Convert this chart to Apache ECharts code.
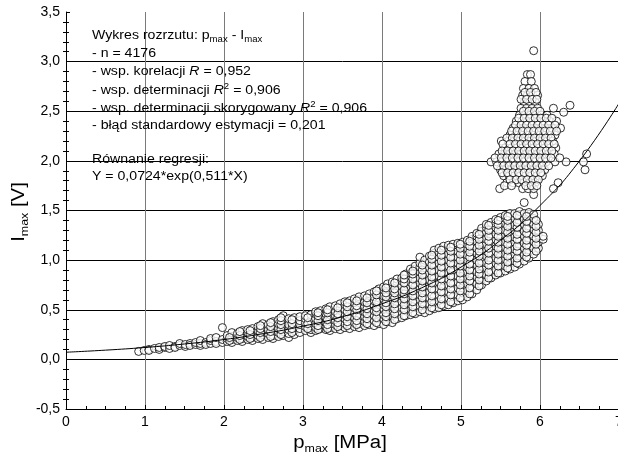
<!DOCTYPE html>
<html><head><meta charset="utf-8">
<script src="https://cdn.jsdelivr.net/npm/echarts@6/dist/echarts.min.js"></script>
<style>html,body{margin:0;padding:0;background:#fff}#c{width:618px;height:463px}</style>
</head><body><div id="c"></div><script>
// ---- data ----
const xTickLabels = ['0','1','2','3','4','5','6','7'];
const yTickLabels = ['-0,5','0,0','0,5','1,0','1,5','2,0','2,5','3,0','3,5'];

// regression curve
const curveX = [0, 0.5, 1, 1.5, 2, 2.5, 3, 3.5, 4, 4.5, 5, 5.5, 6, 6.5, 7];
const curveY = [0.072, 0.093, 0.12, 0.155, 0.20, 0.26, 0.335, 0.43, 0.56, 0.72, 0.93, 1.20, 1.55, 2.00, 2.58];

// scatter columns: [p_max, [I_max values]]
const lowBand = [
  [0.92,[0.08]],[0.99,[0.09]],[1.05,[0.10,0.09]],[1.12,[0.11]],[1.18,[0.10,0.12]],
  [1.25,[0.12,0.13]],[1.31,[0.11,0.14]],[1.38,[0.13,0.12]],[1.44,[0.14,0.16]],
  [1.51,[0.13,0.15]],[1.57,[0.16,0.14]],[1.64,[0.15,0.17]],[1.70,[0.14,0.16,0.19]],
  [1.77,[0.17,0.15]],[1.83,[0.16,0.19,0.21]],[1.90,[0.18,0.16,0.22]],
  [1.98,[0.17,0.20,0.32]],[2.04,[0.18,0.21,0.24]],[2.10,[0.17,0.20,0.23,0.27]],
  [2.17,[0.19,0.22,0.26]],[2.23,[0.18,0.21,0.25,0.29]],[2.30,[0.20,0.23,0.27,0.30]],
  [2.36,[0.19,0.22,0.26,0.31]],[2.43,[0.21,0.24,0.29,0.33]],[2.49,[0.20,0.25,0.28,0.32,0.36]],
  [2.56,[0.22,0.26,0.30,0.35]],[2.62,[0.21,0.24,0.29,0.34,0.38]],[2.69,[0.23,0.27,0.31,0.36,0.40]],
  [2.75,[0.24,0.28,0.33,0.38,0.44]],[2.82,[0.22,0.26,0.30,0.35,0.41]],[2.89,[0.25,0.29,0.33,0.38,0.42]]
];
const lowFill = [
  [2.07,[0.19,0.22]],[2.20,[0.20,0.24,0.28]],[2.33,[0.21,0.25,0.29]],
  [2.46,[0.22,0.27,0.31,0.34]],[2.59,[0.23,0.28,0.33,0.37]],
  [2.72,[0.25,0.30,0.35,0.39,0.42]],[2.86,[0.27,0.31,0.36,0.40]]
];
const midBand = [
  [2.96,[0.27,0.31,0.35,0.39,0.43]],[3.03,[0.29,0.33,0.37,0.41,0.44]],
  [3.10,[0.27,0.30,0.34,0.39,0.45]],[3.16,[0.29,0.32,0.36,0.41,0.46,0.48]],
  [3.22,[0.31,0.35,0.38,0.43,0.49]],[3.29,[0.30,0.33,0.37,0.42,0.46,0.51]],
  [3.34,[0.29,0.32,0.36,0.40,0.45,0.50,0.53]],[3.41,[0.31,0.35,0.39,0.44,0.48,0.54]],
  [3.47,[0.30,0.34,0.38,0.42,0.47,0.51,0.56]],[3.53,[0.32,0.36,0.41,0.45,0.50,0.55,0.58]],
  [3.59,[0.31,0.35,0.40,0.44,0.49,0.53,0.59]],[3.65,[0.33,0.37,0.42,0.47,0.52,0.57,0.61]],
  [3.71,[0.32,0.36,0.41,0.46,0.51,0.55,0.60,0.63]],[3.78,[0.34,0.38,0.43,0.48,0.53,0.58,0.64]],
  [3.84,[0.35,0.40,0.45,0.50,0.55,0.60,0.66]],[3.90,[0.34,0.39,0.44,0.49,0.54,0.59,0.63,0.68]],
  [3.96,[0.36,0.41,0.46,0.51,0.57,0.62,0.67,0.71]]
];
const upperBand = [
  [4.02,[0.35,0.41,0.45,0.51,0.55,0.61,0.64,0.70,0.73]],
  [4.07,[0.38,0.42,0.48,0.52,0.58,0.62,0.68,0.71,0.76]],
  [4.13,[0.37,0.44,0.49,0.53,0.60,0.65,0.69,0.75,0.78]],
  [4.19,[0.41,0.45,0.51,0.57,0.61,0.67,0.72,0.76,0.81]],
  [4.25,[0.42,0.48,0.52,0.58,0.64,0.68,0.74,0.79,0.82]],
  [4.30,[0.44,0.49,0.55,0.60,0.66,0.71,0.76,0.81,0.86]],
  [4.36,[0.45,0.51,0.56,0.62,0.67,0.73,0.78,0.84,0.87,0.91]],
  [4.42,[0.46,0.52,0.58,0.63,0.69,0.74,0.80,0.86,0.91,0.94]],
  [4.48,[0.48,0.54,0.60,0.65,0.71,0.77,0.82,0.88,0.93,0.97,1.03]],
  [4.54,[0.47,0.55,0.61,0.67,0.72,0.78,0.84,0.90,0.96,1.00]],
  [4.60,[0.49,0.56,0.62,0.68,0.74,0.80,0.87,0.92,0.98,1.04]],
  [4.66,[0.51,0.57,0.63,0.70,0.76,0.82,0.88,0.94,1.00,1.07,1.10]],
  [4.72,[0.52,0.59,0.65,0.71,0.78,0.84,0.90,0.97,1.03,1.08,1.12]],
  [4.78,[0.54,0.60,0.67,0.73,0.79,0.86,0.92,0.98,1.04,1.10,1.14]],
  [4.84,[0.55,0.62,0.68,0.75,0.81,0.87,0.94,1.00,1.06,1.12,1.15]],
  [4.90,[0.57,0.63,0.70,0.76,0.83,0.89,0.95,1.02,1.08,1.13,1.16]],
  [4.96,[0.59,0.65,0.72,0.78,0.84,0.91,0.97,1.03,1.09,1.15,1.17]]
];
const topBand = [
  [5.02,[0.60,0.67,0.72,0.79,0.84,0.91,0.96,1.03,1.08,1.14,1.18]],
  [5.08,[0.63,0.69,0.76,0.81,0.88,0.93,1.00,1.05,1.12,1.16,1.20]],
  [5.14,[0.66,0.73,0.78,0.85,0.90,0.97,1.02,1.09,1.14,1.21,1.24]],
  [5.20,[0.70,0.76,0.83,0.88,0.95,1.00,1.07,1.12,1.19,1.24,1.27]],
  [5.26,[0.75,0.82,0.87,0.94,0.99,1.06,1.11,1.18,1.23,1.29,1.32]],
  [5.32,[0.79,0.85,0.92,0.97,1.04,1.09,1.16,1.21,1.28,1.33,1.36]],
  [5.38,[0.82,0.89,0.94,1.01,1.06,1.13,1.18,1.25,1.30,1.35,1.38]],
  [5.44,[0.85,0.90,0.97,1.02,1.09,1.14,1.21,1.26,1.33,1.37,1.41]],
  [5.50,[0.87,0.93,0.98,1.05,1.10,1.17,1.22,1.29,1.34,1.40,1.43]],
  [5.56,[0.89,0.94,1.01,1.06,1.13,1.18,1.25,1.30,1.37,1.42,1.45]],
  [5.62,[0.91,0.97,1.02,1.09,1.14,1.21,1.26,1.33,1.38,1.44,1.47]],
  [5.68,[0.93,0.99,1.06,1.11,1.18,1.23,1.30,1.35,1.42,1.47]],
  [5.74,[0.96,1.03,1.08,1.15,1.20,1.27,1.32,1.39,1.44,1.49]],
  [5.80,[0.99,1.05,1.12,1.17,1.24,1.29,1.36,1.41,1.47,1.58]],
  [5.86,[1.02,1.09,1.14,1.21,1.26,1.33,1.38,1.44,1.48]],
  [5.92,[1.06,1.12,1.19,1.24,1.31,1.36,1.42,1.46,1.66]],
  [5.98,[1.12,1.18,1.25,1.30,1.36]],
  [6.04,[1.21,1.24]]
];
const bandFill = [
  [3.06,[0.31,0.36,0.42]],[3.19,[0.30,0.34,0.39,0.44,0.47]],[3.31,[0.31,0.35,0.40,0.47,0.50]],
  [3.44,[0.33,0.37,0.42,0.46,0.52]],[3.56,[0.34,0.38,0.43,0.48,0.53,0.57]],
  [3.68,[0.35,0.39,0.44,0.50,0.54,0.59]],[3.81,[0.36,0.41,0.46,0.51,0.57,0.62]],
  [3.93,[0.37,0.42,0.48,0.52,0.58,0.65,0.69]],[4.05,[0.38,0.43,0.47,0.53,0.57,0.63,0.67,0.72]],
  [4.16,[0.40,0.46,0.51,0.56,0.62,0.67,0.71,0.77]],[4.28,[0.44,0.50,0.55,0.61,0.66,0.70,0.77,0.81,0.85]],
  [4.39,[0.47,0.53,0.58,0.64,0.69,0.75,0.81,0.86,0.89]],[4.51,[0.50,0.56,0.62,0.67,0.73,0.79,0.85,0.90,0.95]],
  [4.63,[0.52,0.58,0.64,0.71,0.77,0.83,0.89,0.95,1.01,1.05]],
  [4.75,[0.55,0.61,0.68,0.74,0.81,0.87,0.93,0.99,1.05,1.10]],
  [4.87,[0.58,0.65,0.71,0.77,0.84,0.90,0.97,1.03,1.09,1.13]],
  [4.99,[0.62,0.69,0.75,0.81,0.87,0.94,1.00,1.06,1.12,1.16]],
  [5.11,[0.66,0.72,0.79,0.84,0.90,0.96,1.03,1.08,1.14,1.19]],
  [5.23,[0.74,0.80,0.86,0.91,0.97,1.04,1.09,1.15,1.21,1.26]],
  [5.35,[0.82,0.88,0.95,1.00,1.07,1.12,1.19,1.24,1.30,1.35]],
  [5.47,[0.87,0.94,1.00,1.06,1.12,1.18,1.24,1.30,1.36,1.40]],
  [5.59,[0.92,0.98,1.04,1.10,1.16,1.22,1.28,1.34,1.40,1.44]],
  [5.71,[0.97,1.02,1.09,1.14,1.21,1.26,1.33,1.38,1.45]],
  [5.83,[1.03,1.08,1.15,1.20,1.27,1.32,1.39,1.44]],
  [5.95,[1.09,1.16,1.22,1.28,1.34,1.40]]
];
// upper cluster rows: [I_max, [p_max values]]
const clusterRows = [
  [3.11,[5.92]],[2.87,[5.84,5.88]],[2.80,[5.81,5.89]],[2.73,[5.79,5.86,5.93]],
  [2.66,[5.78,5.84,5.91,5.97]],[2.59,[5.80,5.87,5.94]],[2.56,[6.38]],
  [2.53,[5.76,5.83,5.90,5.97,6.17]],[2.49,[6.30]],
  [2.46,[5.74,5.81,5.88,5.95,6.02,6.09]],
  [2.40,[5.70,5.77,5.84,5.91,5.98,6.05,6.12,6.21]],
  [2.33,[5.66,5.73,5.80,5.87,5.94,6.01,6.08,6.15,6.26]],
  [2.26,[5.62,5.69,5.76,5.83,5.90,5.97,6.04,6.11,6.19]],
  [2.20,[5.51,5.60,5.67,5.74,5.81,5.88,5.95,6.02,6.09,6.16]],
  [2.13,[5.56,5.64,5.71,5.78,5.85,5.92,5.99,6.06,6.13,6.20]],
  [2.07,[5.48,5.55,5.62,5.69,5.76,5.83,5.90,5.97,6.04,6.11,6.18,6.59]],
  [1.99,[5.38,5.45,5.52,5.59,5.66,5.73,5.80,5.87,5.94,6.01,6.08,6.19,6.33,6.55]],
  [1.91,[5.50,5.57,5.64,5.71,5.78,5.85,5.92,5.99,6.06,6.57]],
  [1.85,[5.54,5.61,5.68,5.75,5.82,5.89,5.96,6.03]],
  [1.78,[5.58,5.66,5.73,5.80,5.87,5.94,6.23]],
  [1.72,[5.49,5.78,5.85,5.92,6.17]]
];
const clusterFill = [
  [2.69,[5.81,5.88,5.95]],[2.62,[5.76,5.83,5.90,5.96]],[2.50,[5.79,5.86,5.93,6.00]],
  [2.43,[5.73,5.80,5.87,5.94,6.01,6.08,6.15]],
  [2.36,[5.69,5.76,5.83,5.90,5.97,6.04,6.11,6.19]],
  [2.30,[5.64,5.71,5.78,5.85,5.92,5.99,6.06,6.13,6.21]],
  [2.23,[5.58,5.65,5.72,5.79,5.86,5.93,6.00,6.07,6.14]],
  [2.17,[5.53,5.62,5.69,5.76,5.83,5.90,5.97,6.04,6.11,6.18]],
  [2.10,[5.52,5.59,5.66,5.73,5.80,5.87,5.94,6.01,6.08,6.15]],
  [2.03,[5.43,5.51,5.58,5.65,5.72,5.79,5.86,5.93,6.00,6.07,6.14,6.25]],
  [1.95,[5.46,5.54,5.61,5.68,5.75,5.82,5.89,5.96,6.03,6.11]],
  [1.88,[5.52,5.59,5.66,5.73,5.80,5.87,5.94,6.01]],
  [1.81,[5.62,5.70,5.77,5.84,5.91,5.98]],
  [1.75,[5.55,5.64,5.82,5.89,5.96]]
];

// ---- build ----
const pts = [];
[lowBand, lowFill, midBand, upperBand, topBand, bandFill].forEach(g =>
  g.forEach(([x, ys]) => ys.forEach(y => pts.push([x, y]))));
[clusterRows, clusterFill].forEach(g =>
  g.forEach(([y, xs]) => xs.forEach(x => pts.push([x, y]))));
const curve = curveX.map((x, i) => [x, curveY[i]]);

const F = '"Liberation Sans", Arial, sans-serif';
const rich = {
  t: {fontFamily: F, fontSize: 12.5, lineHeight: 16, fill: '#000'},
  i: {fontFamily: F, fontSize: 12.5, lineHeight: 16, fill: '#000', fontStyle: 'italic'},
  s: {fontFamily: F, fontSize: 8.5, lineHeight: 10, fill: '#000', verticalAlign: 'bottom'},
  p: {fontFamily: F, fontSize: 8.5, lineHeight: 10, fill: '#000', verticalAlign: 'top'}
};
const infoLines = [
  '{t|Wykres rozrzutu: p}{s|max}{t| - I}{s|max}',
  '{t|- n = 4176}',
  '{t|- wsp. korelacji }{i|R}{t| = 0,952}',
  '{t|- wsp. determinacji }{i|R}{p|2}{t| = 0,906}',
  '{t|- wsp. determinacji skorygowany }{i|R}{p|2}{t| = 0,906}',
  '{t|- błąd standardowy estymacji = 0,201}',
  '{t|Równanie regresji:}',
  '{t|Y = 0,0724*exp(0,511*X)}'
];
const infoY = [36, 54, 72, 90.5, 108.5, 126, 160, 177];
const graphics = infoLines.map((s, k) => ({
  type: 'text', x: 92, y: infoY[k], scaleX: 1.13, silent: true, z: 10,
  style: {text: s, rich: rich, align: 'left', verticalAlign: 'middle', fill: '#000'}
}));
const richBig = {
  n: {fontFamily: F, fontSize: 18, lineHeight: 22, fill: '#000'},
  s: {fontFamily: F, fontSize: 11, lineHeight: 13, fill: '#000', verticalAlign: 'bottom'}
};
graphics.push({type: 'text', x: 340, y: 443, scaleX: 1.13, silent: true,
  style: {text: '{n|p}{s|max}{n| [MPa]}', rich: richBig, align: 'center', verticalAlign: 'middle'}});
graphics.push({type: 'text', x: 19, y: 212, scaleX: 1.13, rotation: Math.PI / 2, silent: true,
  style: {text: '{n|I}{s|max}{n| [V]}', rich: richBig, align: 'center', verticalAlign: 'middle'}});

const chart = echarts.init(document.getElementById('c'), null, {renderer: 'canvas'});
chart.setOption({
  animation: false,
  backgroundColor: '#fff',
  grid: {left: 66, top: 12, width: 553, height: 397, containLabel: false, outerBoundsMode: 'none'},
  xAxis: {
    type: 'value', min: 0, max: 7, interval: 1,
    axisLine: {show: true, onZero: false, lineStyle: {color: '#000', width: 1}},
    axisTick: {show: true, inside: true, length: 4, lineStyle: {color: '#000'}},
    minorTick: {show: true, splitNumber: 4, length: 3, lineStyle: {color: '#000'}},
    axisLabel: {fontFamily: F, fontSize: 14, color: '#000', margin: 6, formatter: v => xTickLabels[Math.round(v)]},
    splitLine: {show: true, lineStyle: {color: '#7a7a7a', width: 1}}
  },
  yAxis: [{
    type: 'value', min: -0.5, max: 3.5, interval: 0.5,
    axisLine: {show: true, onZero: false, lineStyle: {color: '#000', width: 1}},
    axisTick: {show: true, inside: true, length: 4, lineStyle: {color: '#000'}},
    minorTick: {show: true, splitNumber: 5, length: 3, lineStyle: {color: '#000'}},
    axisLabel: {fontFamily: F, fontSize: 14, color: '#000', margin: 6,
      formatter: v => yTickLabels[Math.round((v + 0.5) / 0.5)]},
    splitLine: {show: true, showMaxLine: false, showMinLine: false, lineStyle: {color: '#000', width: 1}}
  }, {
    type: 'value', min: -0.5, max: 3.5, interval: 0.5, position: 'right',
    axisLine: {show: false},
    axisTick: {show: false, inside: true},
    minorTick: {show: true, splitNumber: 5, length: 3, lineStyle: {color: '#000'}},
    axisLabel: {show: false},
    splitLine: {show: false}
  }],
  series: [{
    type: 'scatter', data: pts, symbol: 'circle', symbolSize: 8, silent: true, z: 2,
    itemStyle: {color: '#fff', borderColor: '#000', borderWidth: 1}
  }, {
    type: 'line', data: curve, smooth: true, showSymbol: false, silent: true, z: 3,
    lineStyle: {color: '#000', width: 1}
  }],
  graphic: graphics
});
</script></body></html>
